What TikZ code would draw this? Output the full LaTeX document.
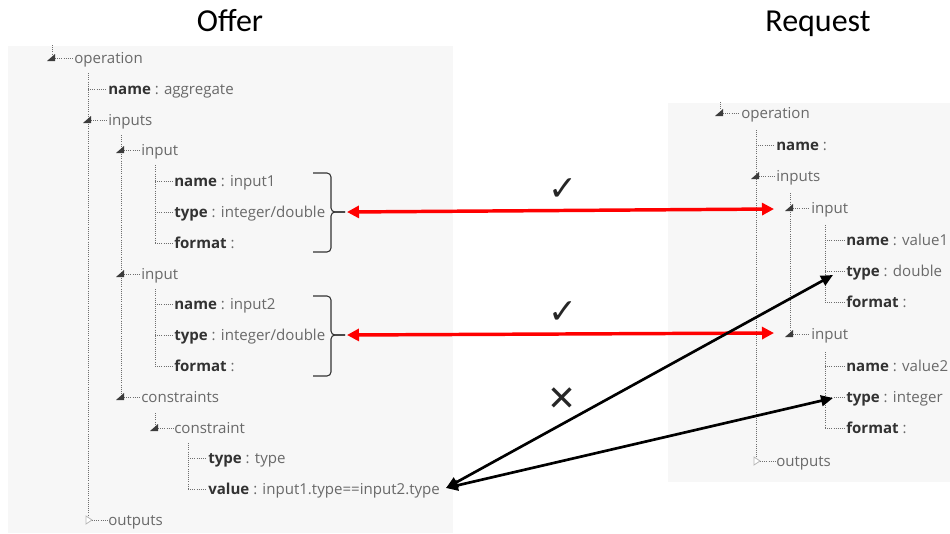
\documentclass[tikz,border=0pt]{standalone}
\usepackage{fontspec}
\setmainfont{Open Sans}
\newfontfamily\titlefont{Carlito}
\newfontfamily\symfont{DejaVu Sans}
\usetikzlibrary{arrows.meta}
\definecolor{panelgray}{RGB}{247,247,247}
\definecolor{valgray}{RGB}{105,105,105}
\definecolor{keygray}{RGB}{50,50,50}
\definecolor{linegray}{RGB}{110,110,110}
\definecolor{icongray}{RGB}{60,60,60}
\newcommand{\tkey}[1]{\textcolor{keygray}{\textbf{#1}}}

\begin{document}
\begin{tikzpicture}[x=0.75pt,y=0.75pt,yscale=-1,xscale=1,
  treetext/.style={anchor=west, inner sep=0.75pt, text height=1.6ex, text depth=0.1ex, text=valgray, font=\fontsize{11.3}{13}\selectfont},
  treeline/.style={draw=linegray, densely dotted, line width=0.6pt},
  openicon/.style={fill=icongray},
  shuticon/.style={draw=linegray!50, line width=0.6pt, fill=white},
  brace/.style={draw=black!80, line width=0.8pt, rounded corners=3pt},
  match/.style={draw=red, line width=2.6pt, {Triangle[length=9pt,width=9pt]}-{Triangle[length=9pt,width=9pt]}},
  nomatch/.style={draw=black, line width=2pt, {Triangle[length=9pt,width=8pt]}-{Triangle[length=9pt,width=8pt]}},
  tick/.style={inner sep=0pt, text=black!85, font=\symfont\fontsize{26}{30}\selectfont},
  title/.style={anchor=base, inner sep=0pt, font=\titlefont\fontsize{24}{28}\selectfont}]
        \useasboundingbox (0,0) rectangle (950,533);

        %Shape: Rectangle [offer panel]
        \fill[panelgray] (8,46) rectangle (453,533);
        %Shape: Rectangle [request panel]
        \fill[panelgray] (668,103) rectangle (950,482);

        % Titles
        \draw (230,31) node [title] (offer) {Offer};
        \draw (818,31) node [title] (request) {Request};

        % Offer tree
        \draw (73,58) node [treetext] (ofOp) {operation};
        \draw (107,89) node [treetext] (ofName) {\tkey{name} : aggregate};
        \draw (107,120) node [treetext] (ofInputs) {inputs};
        \draw (140,150) node [treetext] (ofInA) {input};
        \draw (173,181) node [treetext] (ofNameA) {\tkey{name} : input1};
        \draw (173,212) node [treetext] (ofTypeA) {\tkey{type} : integer/double};
        \draw (173,243) node [treetext] (ofFormA) {\tkey{format} :};
        \draw (140,274) node [treetext] (ofInB) {input};
        \draw (173,304) node [treetext] (ofNameB) {\tkey{name} : input2};
        \draw (173,335) node [treetext] (ofTypeB) {\tkey{type} : integer/double};
        \draw (173,366) node [treetext] (ofFormB) {\tkey{format} :};
        \draw (140,397) node [treetext] (ofCons) {constraints};
        \draw (173,428) node [treetext] (ofCon) {constraint};
        \draw (207,458) node [treetext] (ofConType) {\tkey{type} : type};
        \draw (207,489) node [treetext] (ofConVal) {\tkey{value} : input1.type==input2.type};
        \draw (107,520) node [treetext] (ofOut) {outputs};

        % Offer tree lines
        \draw[treeline] (52,45) -- (52,54);
        \draw[treeline] (88,73) -- (88,520);
        \draw[treeline] (121,135) -- (121,397);
        \draw[treeline] (155,165) -- (155,243);
        \draw[treeline] (155,289) -- (155,366);
        \draw[treeline] (155,413) -- (155,428);
        \draw[treeline] (188,443) -- (188,489);
        \draw[treeline] (55,58) -- (ofOp.west);
        \draw[treeline] (88,89) -- (ofName.west);
        \draw[treeline] (91,120) -- (ofInputs.west);
        \draw[treeline] (124,150) -- (ofInA.west);
        \draw[treeline] (155,181) -- (ofNameA.west);
        \draw[treeline] (155,212) -- (ofTypeA.west);
        \draw[treeline] (155,243) -- (ofFormA.west);
        \draw[treeline] (124,274) -- (ofInB.west);
        \draw[treeline] (155,304) -- (ofNameB.west);
        \draw[treeline] (155,335) -- (ofTypeB.west);
        \draw[treeline] (155,366) -- (ofFormB.west);
        \draw[treeline] (124,397) -- (ofCons.west);
        \draw[treeline] (158,428) -- (ofCon.west);
        \draw[treeline] (188,458) -- (ofConType.west);
        \draw[treeline] (188,489) -- (ofConVal.west);
        \draw[treeline] (92,520) -- (ofOut.west);
        \fill[openicon] (47,61) -- (55,61) -- (55,54) -- cycle;
        \fill[openicon] (83,123) -- (91,123) -- (91,116) -- cycle;
        \fill[openicon] (116,153) -- (124,153) -- (124,146) -- cycle;
        \fill[openicon] (116,277) -- (124,277) -- (124,270) -- cycle;
        \fill[openicon] (116,400) -- (124,400) -- (124,393) -- cycle;
        \fill[openicon] (150,431) -- (158,431) -- (158,424) -- cycle;
        \draw[shuticon] (86,516) -- (92,520) -- (86,524) -- cycle;

        % Request tree
        \draw (740,113) node [treetext] (rqOp) {operation};
        \draw (775,145) node [treetext] (rqName) {\tkey{name} :};
        \draw (775,176) node [treetext] (rqInputs) {inputs};
        \draw (810,208) node [treetext] (rqInA) {input};
        \draw (845,240) node [treetext] (rqNameA) {\tkey{name} : value1};
        \draw (845,271) node [treetext] (rqTypeA) {\tkey{type} : double};
        \draw (845,302) node [treetext] (rqFormA) {\tkey{format} :};
        \draw (810,334) node [treetext] (rqInB) {input};
        \draw (845,366) node [treetext] (rqNameB) {\tkey{name} : value2};
        \draw (845,397) node [treetext] (rqTypeB) {\tkey{type} : integer};
        \draw (845,428) node [treetext] (rqFormB) {\tkey{format} :};
        \draw (775,461) node [treetext] (rqOut) {outputs};

        % Request tree lines
        \draw[treeline] (720,102) -- (720,109);
        \draw[treeline] (756,130) -- (756,461);
        \draw[treeline] (790,193) -- (790,334);
        \draw[treeline] (825,225) -- (825,302);
        \draw[treeline] (825,352) -- (825,428);
        \draw[treeline] (723,113) -- (rqOp.west);
        \draw[treeline] (756,145) -- (rqName.west);
        \draw[treeline] (759,176) -- (rqInputs.west);
        \draw[treeline] (793,208) -- (rqInA.west);
        \draw[treeline] (825,240) -- (rqNameA.west);
        \draw[treeline] (825,271) -- (rqTypeA.west);
        \draw[treeline] (825,302) -- (rqFormA.west);
        \draw[treeline] (793,334) -- (rqInB.west);
        \draw[treeline] (825,366) -- (rqNameB.west);
        \draw[treeline] (825,397) -- (rqTypeB.west);
        \draw[treeline] (825,428) -- (rqFormB.west);
        \draw[treeline] (760,461) -- (rqOut.west);
        \fill[openicon] (715,116) -- (723,116) -- (723,109) -- cycle;
        \fill[openicon] (751,179) -- (759,179) -- (759,172) -- cycle;
        \fill[openicon] (785,211) -- (793,211) -- (793,204) -- cycle;
        \fill[openicon] (785,337) -- (793,337) -- (793,330) -- cycle;
        \draw[shuticon] (754,457) -- (760,461) -- (754,465) -- cycle;

        % Braces
        \draw[brace] (313,173) -- (331,173) -- (331,212) -- (345,212);
        \draw[brace] (313,252) -- (331,252) -- (331,212) -- (345,212);
        \draw[brace] (313,296) -- (331,296) -- (331,335) -- (345,335);
        \draw[brace] (313,376) -- (331,376) -- (331,335) -- (345,335);

        % Arrow ends
        \coordinate (braceA) at (347,212);
        \coordinate (braceB) at (347,335);
        \coordinate (rqInAtip) at (774,209);
        \coordinate (rqInBtip) at (774,333);
        \coordinate (valtip) at (446,488);
        \coordinate (rqTypeAtip) at (833,275);
        \coordinate (rqTypeBtip) at (833,398);

        % Arrows
        \draw[match] (braceA) -- (rqInAtip);
        \draw[match] (braceB) -- (rqInBtip);
        \draw[nomatch] (valtip) -- (rqTypeAtip);
        \draw[nomatch] (valtip) -- (rqTypeBtip);

        % Marks
        \draw (563,190) node [tick] (okA) {✓};
        \draw (563,313) node [tick] (okB) {✓};
        \draw (562,399) node [tick] (notok) {✕};

    \end{tikzpicture}
\end{document}
